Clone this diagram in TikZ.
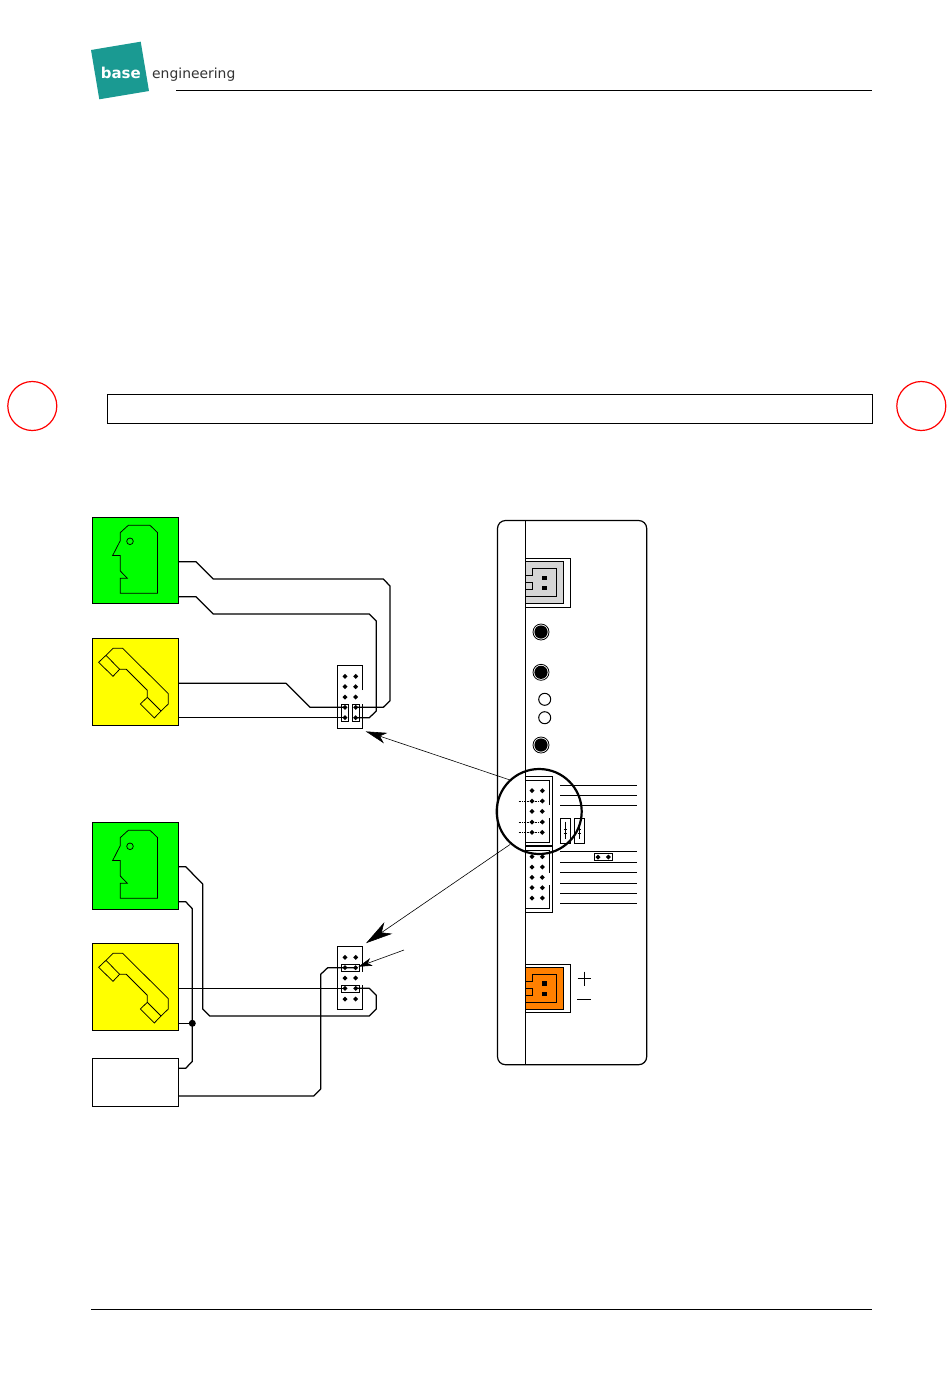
\documentclass[tikz,border=0pt]{standalone}
\usepackage{fontspec}
\setmainfont{DejaVu Sans}
\usetikzlibrary{arrows.meta}
\definecolor{logoteal}{HTML}{1A9A92}
\definecolor{logotext}{HTML}{333333}
\definecolor{phonegreen}{HTML}{00FF00}
\definecolor{phoneyellow}{HTML}{FFFF00}
\definecolor{conngray}{HTML}{D6D6D6}
\definecolor{connorange}{HTML}{FF8000}
\tikzset{
  wire/.style={line width=1.25pt,line join=round},
  thin line/.style={line width=1pt},
  devbox/.style={draw,line width=1pt,anchor=north west,outer sep=0pt,inner sep=0pt,minimum width=86pt},
  pinmark/.style={fill=black,draw=none},
  glyph/.style={line width=0.75pt,line join=miter},
  pointer/.style={line width=0.6pt},
}
\newcommand{\pinsat}[2]{\fill[pinmark] (#1-2.5,#2)--(#1,#2-2.5)--(#1+2.5,#2)--(#1,#2+2.5)--cycle;}
\newcommand{\headicon}[2]{%
  \begin{scope}[shift={(#1,#2)}]
    \draw[glyph] (36,8)--(57.7,8)--(65.3,15.3)--(65.3,76)--(28,76)--(28,61)--(35,61)--(28,53.7)--(28,38.3)--(20.3,38.3)--(28,23.3)--(28,15.3)--cycle;
    \draw[glyph] (37.7,24) circle (3.3);
  \end{scope}}
\newcommand{\phoneicon}[2]{%
  \begin{scope}[shift={(#1,#2)}]
    \draw[glyph] (20.7,10)--(30.3,10)--(76,55.3)--(76,65.7)--(68.7,72.7)--(62,79.7)--(48,65.7)--(55,59)--(55,52)--(34,31)--(27.3,31)--(20.7,38)--(6.3,24)--(13.7,17)--cycle;
    \draw[glyph] (13.7,17)--(27.3,31) (55,59)--(68.7,72.7);
  \end{scope}}
\newcommand{\socket}[4]{%
  \draw[line width=1pt] (362.7,#3)--(362.7,#1)--(337.3,#1)--(337.3,#2)--(362.7,#2)--(362.7,#4);}
\begin{document}
\begin{tikzpicture}[x=1pt,y=-1pt]
\useasboundingbox (0,0) rectangle (950,1387);
\fill[white] (0,0) rectangle (950,1387);

% page furniture
\fill[logoteal] (91,50)--(140.7,41.7)--(149,91)--(99.3,99.3)--cycle;
\node[text=white,font=\bfseries\fontsize{15}{15}\selectfont,inner sep=0pt] (logobase) at (120.8,72.5) {base};
\node[text=logotext,font=\fontsize{13.9}{14}\selectfont,inner sep=0pt,anchor=base west] (logoeng) at (152,78) {engineering};
\draw[thin line] (176,90.5)--(872,90.5);
\draw[thin line] (91,1309.5)--(872,1309.5);
\draw[red,line width=1.2pt] (32.3,406) circle (24.5);
\draw[red,line width=1.2pt] (921.3,406) circle (24.5);
\draw[thin line] (107.5,394.5) rectangle (872.5,423.5);

% ---------- upper wiring
\node[devbox,fill=phonegreen,minimum height=86pt] (g1) at (92.5,517.5) {};
\node[devbox,fill=phoneyellow,minimum height=87pt] (y1) at (92.5,638.5) {};
\headicon{92.3}{517.3}
\phoneicon{92.3}{638.3}
\socket{665.5}{728.5}{690}{704.3}
\foreach \y in {676.3,686.7,697,707.3,717.7}{\pinsat{345}{\y}\pinsat{355.7}{\y}}
\draw[thin line] (341.3,704) rectangle (348.7,721.3);
\draw[thin line] (352.3,704) rectangle (359.7,721.3);
\coordinate (ua) at (g1.east |- 0,561.7);
\coordinate (ub) at (g1.east |- 0,596.7);
\coordinate (uc) at (y1.east |- 0,683.3);
\coordinate (ud) at (y1.east |- 0,717.7);
\coordinate (upinA) at (345,707.3);
\coordinate (upinB) at (355.7,707.3);
\coordinate (upinC) at (345,717.7);
\coordinate (upinD) at (355.7,717.7);
\draw[wire] (ua)--(196,561.7)--(213.3,579)--(383.3,579)--(390,586)--(390,700.7)--(383.3,707.3)--(upinB);
\draw[wire] (ub)--(196,596.7)--(213.3,614)--(369.3,614)--(376.3,621)--(376.3,711)--(369.3,717.7)--(upinD);
\draw[wire] (uc)--(286,683.3)--(310,707.3)--(upinA);
\draw[wire] (ud)--(upinC);

% ---------- lower wiring
\node[devbox,fill=phonegreen,minimum height=87pt] (g2) at (92.5,822.5) {};
\node[devbox,fill=phoneyellow,minimum height=87pt] (y2) at (92.5,943.5) {};
\node[devbox,fill=white,minimum height=48pt] (w2) at (92.5,1058.5) {};
\headicon{92.3}{822.3}
\phoneicon{92.3}{943.3}
\socket{946.5}{1009.5}{971.7}{985}
\foreach \y in {957.3,967.7,978,988.3,999}{\pinsat{345}{\y}\pinsat{355.7}{\y}}
\draw[thin line] (341.3,964.3) rectangle (359.7,971.7);
\draw[thin line] (341.3,985) rectangle (359.7,992.3);
\coordinate (la) at (g2.east |- 0,866.7);
\coordinate (lb) at (g2.east |- 0,901.7);
\coordinate (lc) at (y2.east |- 0,988.3);
\coordinate (ld) at (y2.east |- 0,1023.3);
\coordinate (le) at (w2.east |- 0,1068.3);
\coordinate (lf) at (w2.east |- 0,1096);
\coordinate (ldot) at (192.3,1023.3);
\coordinate (lpinA) at (355.7,988.3);
\coordinate (lpinB) at (345,988.3);
\coordinate (lpinC) at (355.7,967.7);
\draw[wire] (la)--(185.7,866.7)--(202.7,884)--(202.7,1009)--(209.7,1016)--(369.3,1016)--(376.3,1009)--(376.3,995.3)--(369.3,988.3)--(lpinA);
\draw[wire] (lb)--(185.7,901.7)--(192.3,908.7)--(192.3,1061.3)--(185.7,1068.3)--(le);
\draw[wire] (lc)--(lpinB);
\draw[wire] (ld)--(ldot);
\fill (ldot) circle (3.5);
\draw[wire] (lf)--(313.7,1096)--(320.7,1089)--(320.7,974.3)--(327.7,967.7)--(lpinC);

% ---------- device front panel
\draw[line width=1.2pt,rounded corners=8pt] (497.5,520.5) rectangle (646.7,1064.7);
\draw[line width=1.1pt] (525.5,520.5)--(525.5,1064.7);

% top power connector
\draw[line width=1pt] (525.5,558.5)--(570.7,558.5)--(570.7,607.3)--(525.5,607.3);
\fill[conngray] (525.5,561.5) rectangle (563.3,603.7);
\draw[line width=1pt] (525.5,561.5)--(563.3,561.5)--(563.3,603.7)--(525.5,603.7);
\draw[line width=1pt] (525.5,575)--(532.3,575)--(532.3,568.3)--(556.7,568.3)--(556.7,596)--(525.5,596);
\draw[line width=1pt] (525.5,582.3)--(532.3,582.3)--(532.3,589.7)--(525.5,589.7);
\fill (542.3,576) rectangle (547,580);
\fill (542.3,585.7) rectangle (547,589.7);

% LEDs and sockets
\foreach \y in {632,672.3,745}{
  \draw[line width=0.8pt] (541,\y) circle (8);
  \fill (541,\y) circle (6.6);
}
\draw[line width=1pt] (544.7,699.3) circle (6);
\draw[line width=1pt] (544.7,717.7) circle (6);

% dotted signal stubs
\draw[line width=0.6pt,densely dotted] (518.7,801)--(542.3,801);
\draw[line width=0.6pt,densely dotted] (518.7,822)--(542.3,822);
\draw[line width=0.6pt,densely dotted] (518.7,832.3)--(542.3,832.3);

% headers
\draw[line width=1pt] (525.5,776.3)--(552.7,776.3)--(552.7,845.3)--(525.5,845.3);
\draw[line width=1pt] (525.5,780.3)--(549.3,780.3)--(549.3,805);
\draw[line width=1pt] (549.3,818.3)--(549.3,842.3)--(525.5,842.3);
\draw[line width=1pt] (525.5,846.3)--(552.7,846.3)--(552.7,912.3)--(525.5,912.3);
\draw[line width=1pt] (525.5,850.3)--(549.3,850.3)--(549.3,873);
\draw[line width=1pt] (549.3,885)--(549.3,908.3)--(525.5,908.3);
\foreach \y in {790.7,801,811.3,822,832.3,856.7,867,877.3,887.7,898}{\pinsat{532}{\y}\pinsat{542.3}{\y}}

% label rules
\foreach \y in {785,795.3,805.3,851.3,862.3,872.3,883.3,893.3,903.3}{\draw[line width=1pt] (560,\y)--(636.7,\y);}

% small jumpers
\foreach \x in {565.3,579.3}{
  \draw[line width=1pt] (\x-5,818.3) rectangle (\x+5,843.3);
  \draw[line width=0.6pt] (\x,821.7)--(\x,839);
  \draw[line width=0.6pt] (\x-1.7,829)--(\x+1.7,829) (\x-1.7,833)--(\x+1.7,833);
}
\fill[white] (594.5,853.5) rectangle (612.3,860.7);
\draw[line width=1pt] (594.3,853.3) rectangle (612.3,860.7);
\pinsat{598}{857}\pinsat{608.3}{857}

% bottom power connector
\draw[line width=1pt] (525.5,964.5)--(570.7,964.5)--(570.7,1012.3)--(525.5,1012.3);
\fill[connorange] (525.5,967.5) rectangle (563.3,1009.3);
\draw[line width=1pt] (525.5,967.5)--(563.3,967.5)--(563.3,1009.3)--(525.5,1009.3);
\draw[line width=1pt] (525.5,981.3)--(532.3,981.3)--(532.3,974.3)--(556.7,974.3)--(556.7,1002.3)--(525.5,1002.3);
\draw[line width=1pt] (525.5,988.3)--(532.3,988.3)--(532.3,995.3)--(525.5,995.3);
\fill (542.3,981.3) rectangle (547,985.7);
\fill (542.3,992) rectangle (547,995.7);
\draw[line width=1pt] (577.5,978.7)--(591.3,978.7) (584.3,971.5)--(584.3,985.5);
\draw[line width=1pt] (577.3,999.3)--(591,999.3);

% lens
\draw[line width=2.2pt] (539.2,811.5) circle (42.5);

% pointers
\coordinate (lensA) at (510,780);
\coordinate (lensB) at (510,844.5);
\coordinate (tipA) at (365.7,731.4);
\coordinate (tipB) at (366,943.2);
\coordinate (noteS) at (404,950);
\coordinate (tipC) at (358.3,966.7);
\draw[pointer,-{Stealth[length=21pt,width=11pt,inset=6pt]}] (lensA)--(tipA);
\draw[pointer,-{Stealth[length=27pt,width=14pt,inset=8pt]}] (lensB)--(tipB);
\draw[pointer,-{Stealth[length=14pt,width=8pt,inset=4pt]}] (noteS)--(tipC);
\end{tikzpicture}
\end{document}
